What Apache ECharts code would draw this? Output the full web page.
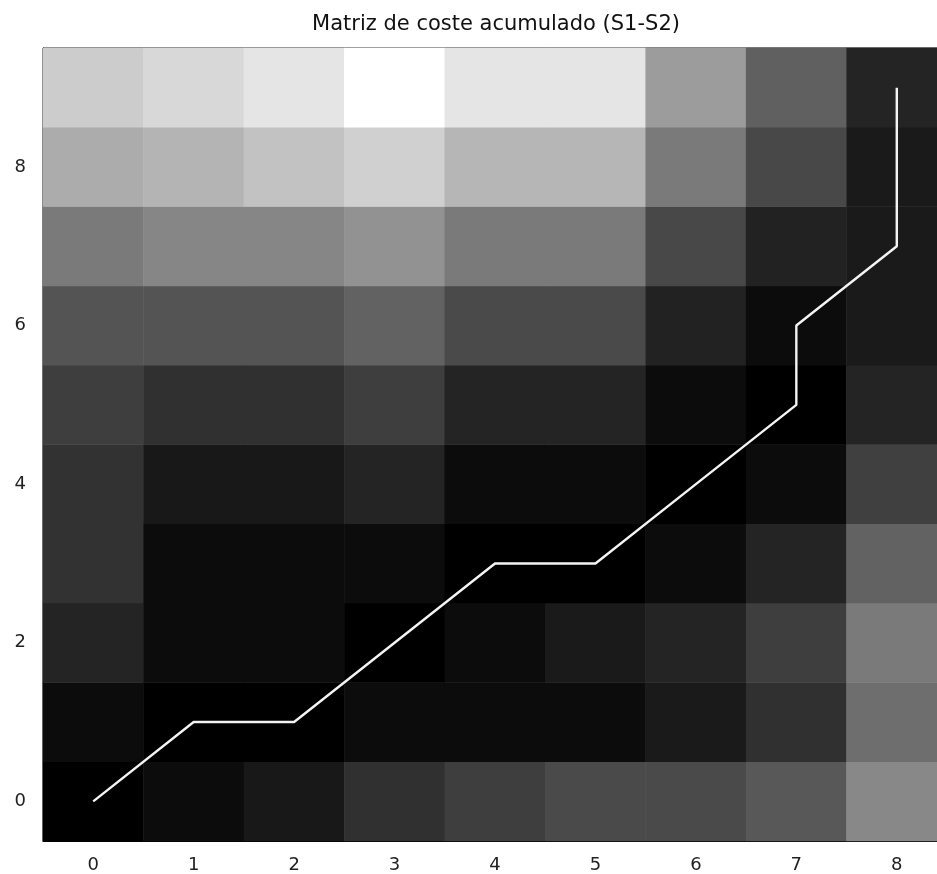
<!DOCTYPE html>
<html>
<head>
<meta charset="utf-8">
<script src="https://cdn.jsdelivr.net/npm/echarts@6/dist/echarts.min.js"></script>
<style>html,body{margin:0;padding:0;background:#fff;overflow:hidden}#c{width:960px;height:874px}</style>
</head>
<body>
<div id="c"></div>
<script>
const xLabels = ['0','1','2','3','4','5','6','7','8'];
const yLabels = ['0','1','2','3','4','5','6','7','8','9'];
// gray intensity per row (row 0 bottom .. row 9 top), columns 0..8
const row0 = [0, 12, 24, 48, 62, 74, 74, 88, 136];
const row1 = [12, 0, 0, 12, 12, 12, 26, 48, 110];
const row2 = [36, 12, 12, 0, 12, 26, 36, 62, 122];
const row3 = [50, 12, 12, 12, 0, 0, 12, 36, 98];
const row4 = [50, 24, 24, 36, 12, 12, 0, 12, 64];
const row5 = [62, 48, 48, 62, 36, 36, 12, 0, 36];
const row6 = [84, 84, 84, 98, 74, 74, 34, 12, 26];
const row7 = [122, 134, 134, 146, 122, 122, 72, 34, 26];
const row8 = [172, 180, 194, 208, 182, 182, 122, 72, 26];
const row9 = [204, 216, 229, 255, 229, 229, 156, 96, 36];
const rows = [row0, row1, row2, row3, row4, row5, row6, row7, row8, row9];
// optimal warping path (x index, y index)
const pathX = [0, 1, 2, 3, 4, 5, 6, 7, 7, 8, 8, 8];
const pathY = [0, 1, 1, 2, 3, 3, 4, 5, 6, 7, 8, 9];

const heat = [];
rows.forEach((r, yi) => r.forEach((v, xi) => heat.push([xi, yi, v])));
const path = pathX.map((x, i) => [x, pathY[i]]);

const chart = echarts.init(document.getElementById('c'));
const font = 'DejaVu Sans';
chart.setOption({
  animation: false,
  title: {
    text: 'Matriz de coste acumulado (S1-S2)',
    left: 491, top: 9, textAlign: 'center',
    textStyle: {fontFamily: font, fontSize: 21, fontWeight: 'normal', color: '#111'}
  },
  grid: {left: 43, top: 48, width: 904, height: 794, show: true, borderColor: '#000', borderWidth: 1, backgroundColor: 'transparent'},
  xAxis: {
    type: 'category', data: xLabels,
    axisLine: {lineStyle: {color: '#000', width: 1}},
    axisTick: {alignWithLabel: true, length: 7, lineStyle: {color: '#000'}},
    axisLabel: {fontFamily: font, fontSize: 18, color: '#222', margin: 15},
    splitLine: {show: false}
  },
  yAxis: {
    type: 'category', data: yLabels,
    axisLine: {lineStyle: {color: '#000', width: 1}},
    axisTick: {alignWithLabel: true, interval: 1, length: 7, lineStyle: {color: '#000'}},
    axisLabel: {fontFamily: font, fontSize: 18, color: '#222', interval: 1, margin: 17},
    splitLine: {show: false}
  },
  visualMap: {show: false, min: 0, max: 255, dimension: 2, seriesIndex: 0, inRange: {color: ['#000000', '#ffffff']}},
  series: [
    {type: 'heatmap', data: heat, itemStyle: {borderWidth: 0}, emphasis: {disabled: true}},
    {type: 'line', data: path, symbol: 'none', lineStyle: {color: '#f4f4f4', width: 2.4}, z: 5}
  ]
});
</script>
</body>
</html>
